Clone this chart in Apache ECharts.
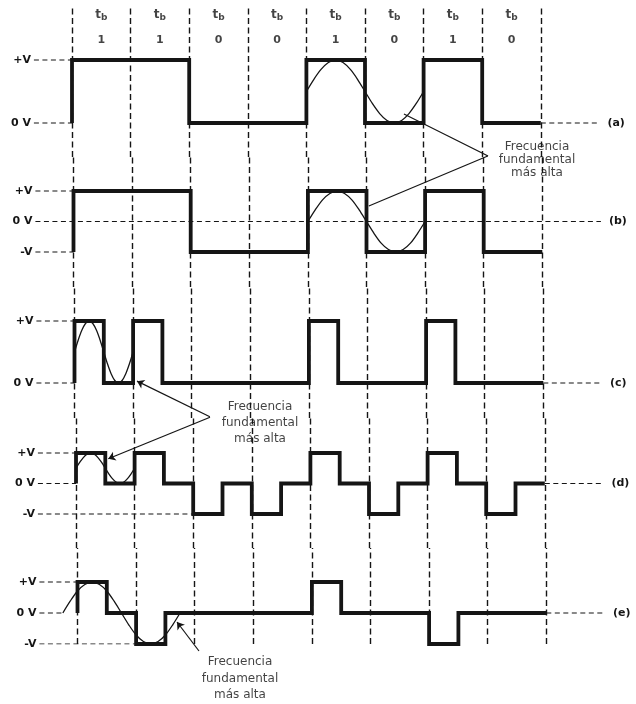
<!DOCTYPE html>
<html><head><meta charset="utf-8">
<script src="https://cdn.jsdelivr.net/npm/echarts@6/dist/echarts.min.js"></script>
<style>html,body{margin:0;padding:0;background:#fff}#c{width:636px;height:704px}</style>
</head><body><div id="c"></div>
<script>
// ================= DATA =================
const bits = [1, 1, 0, 0, 1, 0, 1, 0];
const panelNames = ['(a)', '(b)', '(c)', '(d)', '(e)'];
const levelNames = {'1': '+V', '0': '0 V', '-1': '-V'};
const annotationText = 'Frecuencia\nfundamental\nmás alta';

// NRZ levels, one per bit
const levelsA = [1, 1, 0, 0, 1, 0, 1, 0];
const levelsB = [1, 1, -1, -1, 1, -1, 1, -1];
// RZ levels, one per half bit
const levelsC = [1, 0, 1, 0, 0, 0, 0, 0, 1, 0, 0, 0, 1, 0, 0, 0];
const levelsD = [1, 0, 1, 0, -1, 0, -1, 0, 1, 0, -1, 0, 1, 0, -1, 0];
const levelsE = [1, 0, -1, 0, 0, 0, 0, 0, 1, 0, 0, 0, -1, 0, 0, 0];
const startLevels = {a: 0, b: -1, c: 0, d: 0, e: 0};

// fundamental-frequency overlays: [bit position, level]
const sineA = [[4,0.5],[4.125,0.69],[4.25,0.85],[4.375,0.96],[4.5,1],[4.625,0.96],[4.75,0.85],[4.875,0.69],[5,0.5],
               [5.125,0.31],[5.25,0.15],[5.375,0.04],[5.5,0],[5.625,0.04],[5.75,0.15],[5.875,0.31],[6,0.5]];
const sineB = [[4,0],[4.125,0.38],[4.25,0.71],[4.375,0.92],[4.5,1],[4.625,0.92],[4.75,0.71],[4.875,0.38],[5,0],
               [5.125,-0.38],[5.25,-0.71],[5.375,-0.92],[5.5,-1],[5.625,-0.92],[5.75,-0.71],[5.875,-0.38],[6,0]];
const sineC = [[0,0.5],[0.0625,0.69],[0.125,0.85],[0.1875,0.96],[0.25,1],[0.3125,0.96],[0.375,0.85],[0.4375,0.69],[0.5,0.5],
               [0.5625,0.31],[0.625,0.15],[0.6875,0.04],[0.75,0],[0.8125,0.04],[0.875,0.15],[0.9375,0.31],[1,0.5]];
const sineD = [[0,0.5],[0.0625,0.69],[0.125,0.85],[0.1875,0.96],[0.25,1],[0.3125,0.96],[0.375,0.85],[0.4375,0.69],[0.5,0.5],
               [0.5625,0.31],[0.625,0.15],[0.6875,0.04],[0.75,0],[0.8125,0.04],[0.875,0.15],[0.9375,0.31],[1,0.5]];
const sineE = [[-0.25,0],[-0.125,0.38],[0,0.71],[0.125,0.92],[0.25,1],[0.375,0.92],[0.5,0.71],[0.625,0.38],[0.75,0],
               [0.875,-0.38],[1,-0.71],[1.125,-0.92],[1.25,-1],[1.375,-0.92],[1.5,-0.71],[1.625,-0.38],[1.75,0]];

// level tick labels on the left of each trace
const levelTicks = {a: [1, 0], b: [1, 0, -1], c: [1, 0], d: [1, 0, -1], e: [1, 0, -1]};
// left reference guides: [level, bit where it stops]
const leftGuides = {a: [[1, 0], [0, 0]], b: [[1, 0], [-1, 0]], c: [[1, 0], [0, 0]],
                    d: [[1, 0], [0, 0], [-1, 2]], e: [[1, 0], [0, -0.25], [-1, 1]]};
// right reference guide: [level, from bit (null = from the left labels), to bit]
const rightGuides = {a: [0, 8, 9], b: [0, null, 9], c: [0, 8, 9], d: [0, 8, 9], e: [0, 8, 9]};

// pointer lines: [panel, [from], [to], arrow at end]
const pointers = [
  ['a', [7.10, -0.524], [5.665, 0.143], false],
  ['b', [7.07, 2.148], [5.04, 0.51], false],
  ['c', [2.31, -0.544], [1.067, 0.03], true],
  ['d', [2.287, 2.174], [0.551, 0.81], true],
  ['e', [2.073, -1.226], [1.698, -0.29], true]
];
// annotation text anchors: [panel, [bit, level]]
const notes = [
  ['a', [7.935, -0.587]],
  ['c', [3.166, -0.637]],
  ['e', [2.773, -2.113]]
];

// ================= LAYOUT =================
const X0 = 72, BW = 58.6, XMIN = -0.65, XMAX = 9.3;
const TOP_LABEL_Y = 27.5;
const layout = [
  {key: 'a', top: 5,   bottom: 157, zero: 123,   k: 63,   shift: 0,   levels: levelsA, w: 1,   sine: sineA},
  {key: 'b', top: 157, bottom: 287, zero: 221.5, k: 30.5, shift: 1.5, levels: levelsB, w: 1,   sine: sineB},
  {key: 'c', top: 287, bottom: 418, zero: 383,   k: 62,   shift: 2.5, levels: levelsC, w: 0.5, sine: sineC},
  {key: 'd', top: 418, bottom: 548, zero: 483.5, k: 30.5, shift: 4,   levels: levelsD, w: 0.5, sine: sineD},
  {key: 'e', top: 548, bottom: 644, zero: 613,   k: 31,   shift: 5.5, levels: levelsE, w: 0.5, sine: sineE}
];
const noteLineHeight = {a: 13, c: 16, e: 16.5};
const INK = '#151515';
const FONT = 'DejaVu Sans';

function stepPoints(levels, w, start) {
  const pts = [[0, start]];
  levels.forEach((l, i) => { pts.push([i * w, l]); pts.push([(i + 1) * w, l]); });
  return pts;
}

const grids = [], xAxes = [], yAxes = [], series = [];
const idx = {};
const boundaries = bits.map((_, i) => i).concat([bits.length]);

layout.forEach((p, i) => {
  idx[p.key] = i;
  grids.push({left: X0 + p.shift + XMIN * BW, top: p.top, width: (XMAX - XMIN) * BW, height: p.bottom - p.top});
  xAxes.push({gridIndex: i, type: 'value', min: XMIN, max: XMAX, show: false});
  yAxes.push({
    gridIndex: i, type: 'value',
    min: -(p.bottom - p.zero) / p.k, max: (p.zero - p.top) / p.k,
    axisLine: {show: false}, axisTick: {show: false}, splitLine: {show: false},
    axisLabel: {
      customValues: levelTicks[p.key], formatter: v => levelNames[String(Math.round(v))],
      margin: 3, fontFamily: FONT, fontWeight: 'bold', fontSize: 11, color: INK
    }
  });
  const base = {xAxisIndex: i, yAxisIndex: i, symbol: 'none', silent: true, animation: false};

  // vertical bit-boundary lines
  series.push(Object.assign({}, base, {
    type: 'line', data: [],
    markLine: {silent: true, symbol: ['none', 'none'], label: {show: false}, animation: false,
      emphasis: {disabled: true},
      lineStyle: {color: INK, width: 1.4, type: [6, 3.5]},
      data: boundaries.map(b => ({xAxis: b}))}
  }));

  // left guides
  leftGuides[p.key].forEach(([lv, to]) => {
    series.push(Object.assign({}, base, {
      type: 'line', data: [[XMIN, lv], [to, lv]],
      lineStyle: {color: INK, width: 1.2, type: [5, 3.5]}
    }));
  });

  // right guide with trace name
  const rg = rightGuides[p.key];
  series.push(Object.assign({}, base, {
    type: 'line', data: [[rg[1] === null ? XMIN : rg[1], rg[0]], [rg[2], rg[0]]],
    lineStyle: {color: INK, width: 1.2, type: [5, 3.5]},
    endLabel: {show: true, formatter: panelNames[i], distance: 8,
      fontFamily: FONT, fontWeight: 'bold', fontSize: 11, color: INK}
  }));

  // waveform
  series.push(Object.assign({}, base, {
    type: 'line', data: stepPoints(p.levels, p.w, startLevels[p.key]), z: 5,
    lineStyle: {color: INK, width: 3.8, join: 'miter', cap: 'butt'}
  }));

  // fundamental sine
  series.push(Object.assign({}, base, {
    type: 'line', data: p.sine, smooth: 0.3, z: 6,
    lineStyle: {color: INK, width: 1.3}
  }));
});

// top labels: t_b and bit values
series.push({
  type: 'scatter', xAxisIndex: 0, yAxisIndex: 0, symbolSize: 0, silent: true, animation: false, clip: false,
  data: bits.map((b, i) => [i + 0.5, (layout[0].zero - TOP_LABEL_Y) / layout[0].k, b]),
  label: {
    show: true, position: 'inside', color: INK,
    formatter: q => '{t|t}{s|b}\n{n|' + q.data[2] + '}',
    rich: {
      t: {fontFamily: FONT, fontWeight: 'bold', fontSize: 12, lineHeight: 25, color: INK, verticalAlign: 'middle'},
      s: {fontFamily: FONT, fontWeight: 'bold', fontSize: 9, lineHeight: 25, color: INK, verticalAlign: 'middle', padding: [6, 0, 0, 0]},
      n: {fontFamily: FONT, fontWeight: 'bold', fontSize: 11, lineHeight: 25, color: INK}
    }
  }
});

// pointer lines
pointers.forEach(([key, from, to, arrow]) => {
  series.push({
    type: 'lines', coordinateSystem: 'cartesian2d', xAxisIndex: idx[key], yAxisIndex: idx[key],
    clip: false, silent: true, animation: false, z: 7,
    symbol: ['none', arrow ? 'arrow' : 'none'], symbolSize: 7,
    lineStyle: {color: INK, width: 1.2, opacity: 1, curveness: 0},
    data: [{coords: [from, to]}]
  });
});

// annotation texts
notes.forEach(([key, pos]) => {
  series.push({
    type: 'scatter', xAxisIndex: idx[key], yAxisIndex: idx[key], symbolSize: 0, clip: false,
    silent: true, animation: false,
    data: [pos],
    label: {show: true, position: 'inside', formatter: annotationText, align: 'center', verticalAlign: 'middle',
      fontFamily: FONT, fontSize: 12, lineHeight: noteLineHeight[key], color: '#111'}
  });
});

const chart = echarts.init(document.getElementById('c'), null, {renderer: 'canvas'});
chart.setOption({
  backgroundColor: '#ffffff',
  animation: false,
  grid: grids, xAxis: xAxes, yAxis: yAxes, series: series
});
</script>
</body></html>
